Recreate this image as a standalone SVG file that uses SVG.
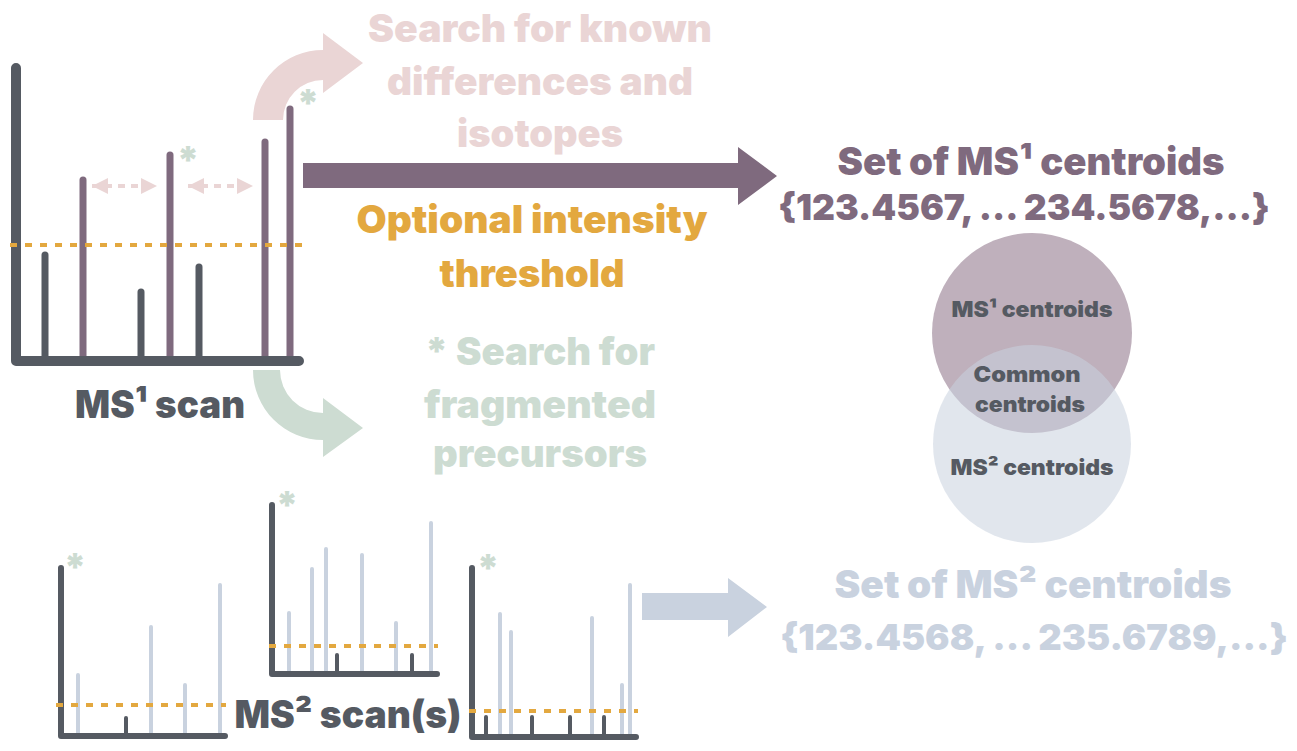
<svg xmlns="http://www.w3.org/2000/svg" width="1297" height="751" viewBox="0 0 1297 751">
<defs>
<style>
text{font-family:Inter,"Liberation Sans",sans-serif;font-weight:900;text-anchor:middle}
.big{font-size:38px}
.num{font-size:36px}
.pink{fill:#ead5d5}
.green{fill:#cddcd2}
.orange{fill:#e3a83f}
.purple{fill:#7f6a7e}
.gray{fill:#555a62}
.blue{fill:#c9d2df}
.ast{font-size:38px;fill:#cddcd2}
.venn{font-size:22px;fill:#555a62}
.axis{fill:none;stroke:#555a62;stroke-width:10;stroke-linecap:round;stroke-linejoin:round}
.axis2{fill:none;stroke:#555a62;stroke-width:6;stroke-linecap:round;stroke-linejoin:round}
.pk-g{stroke:#555a62;stroke-width:7;stroke-linecap:round}
.pk-p{stroke:#7f6a7e;stroke-width:7;stroke-linecap:round}
.pk-l{stroke:#c9d2df;stroke-width:4;stroke-linecap:round}
.pk-d{stroke:#555a62;stroke-width:4;stroke-linecap:round}
.thr{stroke:#e3a83f;stroke-width:4;stroke-dasharray:7 8;fill:none}
.dbl{stroke:#ead5d5;stroke-width:4;stroke-dasharray:7 6;fill:none;marker-start:url(#head);marker-end:url(#head)}
</style>
<marker id="head" viewBox="0 0 16 16" markerUnits="userSpaceOnUse" markerWidth="16" markerHeight="16" refX="16" refY="8" orient="auto-start-reverse">
<path d="M0,0 L16,8 L0,16 Z" fill="#ead5d5"/>
</marker>
</defs>
<rect width="1297" height="751" fill="#ffffff"/>

<g id="connectors">
<path id="arrow-known" d="M253,120 A70,70 0 0 1 323,50 L323,33 L363,63 L323,93 L323,80 A40,40 0 0 0 283,120 Z" fill="#ead5d5"/>
<path id="arrow-frag" d="M253,370 A70,70 0 0 0 323,440 L323,457 L363,428 L323,398 L323,413 A43,43 0 0 1 280,370 Z" fill="#cddcd2"/>
<path id="arrow-ms1" d="M303,163 L738,163 L738,147 L777,176 L738,205 L738,188 L303,188 Z" fill="#7f6a7e"/>
<path id="arrow-ms2" d="M642,593 L728,593 L728,578 L767,607 L728,637 L728,620 L642,620 Z" fill="#c9d2df"/>
</g>

<g id="ms1-scan">
<line class="pk-g" x1="45" y1="361" x2="45" y2="255"/>
<line class="pk-g" x1="141" y1="361" x2="141" y2="292"/>
<line class="pk-g" x1="199" y1="361" x2="199" y2="267"/>
<line class="pk-p" x1="83" y1="361" x2="83" y2="180"/>
<line class="pk-p" x1="170" y1="361" x2="170" y2="155"/>
<line class="pk-p" x1="265" y1="361" x2="265" y2="142"/>
<line class="pk-p" x1="290" y1="361" x2="290" y2="109"/>
<path class="axis" d="M16,68 L16,361 L299,361"/>
<line class="dbl" x1="92" y1="186" x2="157" y2="186"/>
<line class="dbl" x1="188" y1="186" x2="253" y2="186"/>
<line class="thr" x1="10" y1="245" x2="303" y2="245"/>
<text class="ast" x="188" y="174">*</text>
<text class="ast" x="308" y="117">*</text>
<text class="gray big" x="160" y="418" textLength="170" lengthAdjust="spacingAndGlyphs">MS¹ scan</text>
</g>

<g id="label-known">
<text class="big pink" x="540" y="42" textLength="344" lengthAdjust="spacingAndGlyphs">Search for known</text>
<text class="big pink" x="540" y="95" textLength="306" lengthAdjust="spacingAndGlyphs">differences and</text>
<text class="big pink" x="540" y="147" textLength="166" lengthAdjust="spacingAndGlyphs">isotopes</text>
</g>

<g id="label-threshold">
<text class="big orange" x="532" y="233" textLength="351" lengthAdjust="spacingAndGlyphs">Optional intensity</text>
<text class="big orange" x="532" y="287" textLength="185" lengthAdjust="spacingAndGlyphs">threshold</text>
</g>

<g id="label-frag">
<text class="big green" x="540" y="365" textLength="230" lengthAdjust="spacingAndGlyphs">* Search for</text>
<text class="big green" x="540" y="418" textLength="232" lengthAdjust="spacingAndGlyphs">fragmented</text>
<text class="big green" x="540" y="467" textLength="214" lengthAdjust="spacingAndGlyphs">precursors</text>
</g>

<g id="set-ms1">
<text class="big purple" x="1031" y="175" textLength="387" lengthAdjust="spacingAndGlyphs">Set of MS¹ centroids</text>
<text class="num purple" x="1024" y="220" textLength="492" lengthAdjust="spacingAndGlyphs">{123.4567, ... 234.5678,...}</text>
</g>

<g id="venn">
<circle cx="1032" cy="333" r="100" fill="#bfb0bc"/>
<circle cx="1032" cy="444" r="99" fill="#c9d2df" fill-opacity="0.55"/>
<text class="venn" x="1032" y="317" textLength="161" lengthAdjust="spacingAndGlyphs">MS¹ centroids</text>
<text class="venn" x="1027" y="382" textLength="107" lengthAdjust="spacingAndGlyphs">Common</text>
<text class="venn" x="1030" y="412" textLength="110" lengthAdjust="spacingAndGlyphs">centroids</text>
<text class="venn" x="1032" y="475" textLength="163" lengthAdjust="spacingAndGlyphs">MS² centroids</text>
</g>

<g id="ms2-scan-a">
<line class="pk-l" x1="78" y1="736" x2="78" y2="675"/>
<line class="pk-l" x1="151" y1="736" x2="151" y2="627"/>
<line class="pk-l" x1="185" y1="736" x2="185" y2="685"/>
<line class="pk-l" x1="220" y1="736" x2="220" y2="585"/>
<line class="pk-d" x1="126" y1="736" x2="126" y2="718"/>
<path class="axis2" d="M61,568 L61,736 L225,736"/>
<line class="thr" x1="56" y1="705" x2="226" y2="705"/>
<text class="ast" x="75" y="581">*</text>
</g>

<g id="ms2-scan-b">
<line class="pk-l" x1="289" y1="674" x2="289" y2="613"/>
<line class="pk-l" x1="312" y1="674" x2="312" y2="569"/>
<line class="pk-l" x1="326" y1="674" x2="326" y2="549"/>
<line class="pk-l" x1="362" y1="674" x2="362" y2="555"/>
<line class="pk-l" x1="396" y1="674" x2="396" y2="623"/>
<line class="pk-l" x1="431" y1="674" x2="431" y2="523"/>
<line class="pk-d" x1="337" y1="674" x2="337" y2="655"/>
<line class="pk-d" x1="412" y1="674" x2="412" y2="655"/>
<path class="axis2" d="M272,505 L272,674 L437,674"/>
<line class="thr" x1="269" y1="646" x2="438" y2="646"/>
<text class="ast" x="287" y="519">*</text>
</g>

<g id="ms2-scan-c">
<line class="pk-l" x1="500" y1="737" x2="500" y2="614"/>
<line class="pk-l" x1="511" y1="737" x2="511" y2="632"/>
<line class="pk-l" x1="592" y1="737" x2="592" y2="618"/>
<line class="pk-l" x1="622" y1="737" x2="622" y2="685"/>
<line class="pk-l" x1="630" y1="737" x2="630" y2="585"/>
<line class="pk-d" x1="486" y1="737" x2="486" y2="717"/>
<line class="pk-d" x1="532" y1="737" x2="532" y2="717"/>
<line class="pk-d" x1="570" y1="737" x2="570" y2="717"/>
<line class="pk-d" x1="604" y1="737" x2="604" y2="717"/>
<path class="axis2" d="M472,568 L472,737 L636,737"/>
<line class="thr" x1="469" y1="711" x2="638" y2="711"/>
<text class="ast" x="488" y="582">*</text>
</g>

<g id="ms2-label">
<text class="gray big" x="348" y="728" textLength="227" lengthAdjust="spacingAndGlyphs">MS² scan(s)</text>
</g>

<g id="set-ms2">
<text class="big blue" x="1033" y="598" textLength="397" lengthAdjust="spacingAndGlyphs">Set of MS² centroids</text>
<text class="num blue" x="1034" y="650" textLength="508" lengthAdjust="spacingAndGlyphs">{123.4568, ... 235.6789,...}</text>
</g>
</svg>
